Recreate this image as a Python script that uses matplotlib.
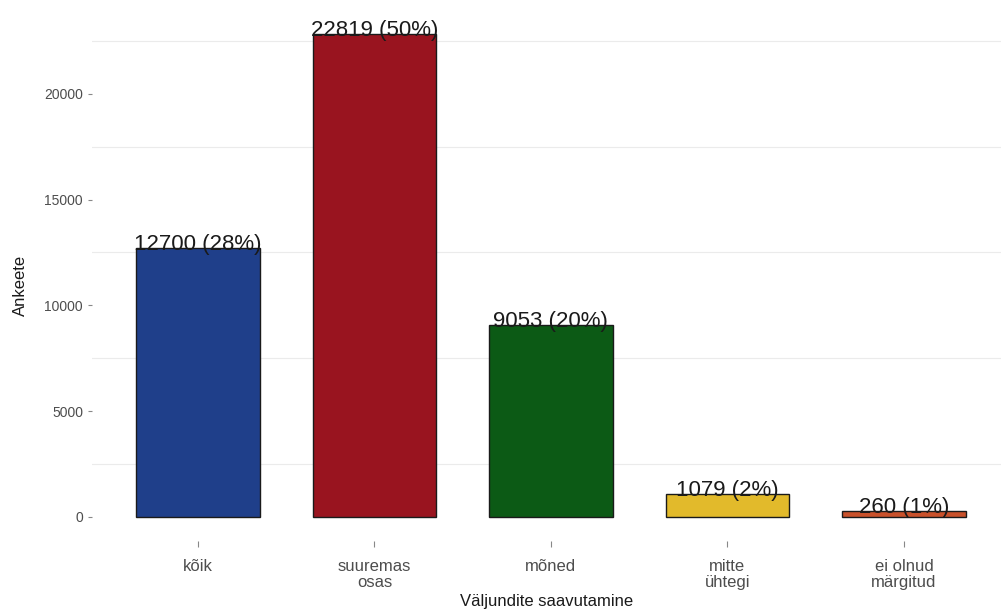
import matplotlib
matplotlib.use("Agg")
import matplotlib.pyplot as plt
from matplotlib.ticker import MultipleLocator

categories = ["kõik", "suuremas\nosas", "mõned", "mitte\nühtegi", "ei olnud\nmärgitud"]
counts = [12700, 22819, 9053, 1079, 260]
percents = [28, 50, 20, 2, 1]
colors = ["#1F3F8A", "#99141F", "#0C5A15", "#E2BA2B", "#C9512B"]

plt.rcParams['font.family'] = ['Liberation Sans', 'DejaVu Sans']

fig = plt.figure(figsize=(10.01, 6.12), dpi=100)
ax = fig.add_axes([92/1001, 1-541/612, 909/1001, (541-10)/612])

x = list(range(1, len(categories)+1))
ax.bar(x, counts, width=0.7, color=colors, edgecolor="#1a1a1a", linewidth=1.0, zorder=2)
for xi, c, p in zip(x, counts, percents):
    ax.annotate(f"{c} ({p}%)", (xi, c), xytext=(0, -1.5), textcoords="offset points",
                ha="center", va="baseline", fontsize=16, color="#1a1a1a", zorder=3)

ymax = max(counts)
ax.set_ylim(-0.05*ymax, 1.05*ymax)
ax.set_xlim(0.4, 0.4 + 909/176.5)
ax.set_xticks(x)
ax.set_xticklabels(categories, fontsize=12, color="#4D4D4D", linespacing=1.05)
ax.yaxis.set_major_locator(MultipleLocator(5000))
ax.yaxis.set_minor_locator(MultipleLocator(2500))
ax.tick_params(axis="y", labelsize=10, labelcolor="#4D4D4D", color="#888888", length=3, width=0.8, which="major")
ax.tick_params(axis="y", which="minor", length=0)
ax.tick_params(axis="x", color="#888888", length=4, width=0.8, pad=9)
for yv in [2500, 7500, 12500, 17500, 22500]:
    ax.axhline(yv, color="#EBEBEB", linewidth=0.8, zorder=0)
for s in ax.spines.values():
    s.set_visible(False)
ax.set_ylabel("Ankeete", fontsize=12, color="#1a1a1a")
ax.yaxis.set_label_coords(-64/909, 0.482)
ax.set_xlabel("Väljundite saavutamine", fontsize=12, color="#1a1a1a", labelpad=3)

fig.savefig("out.png", dpi=100)
